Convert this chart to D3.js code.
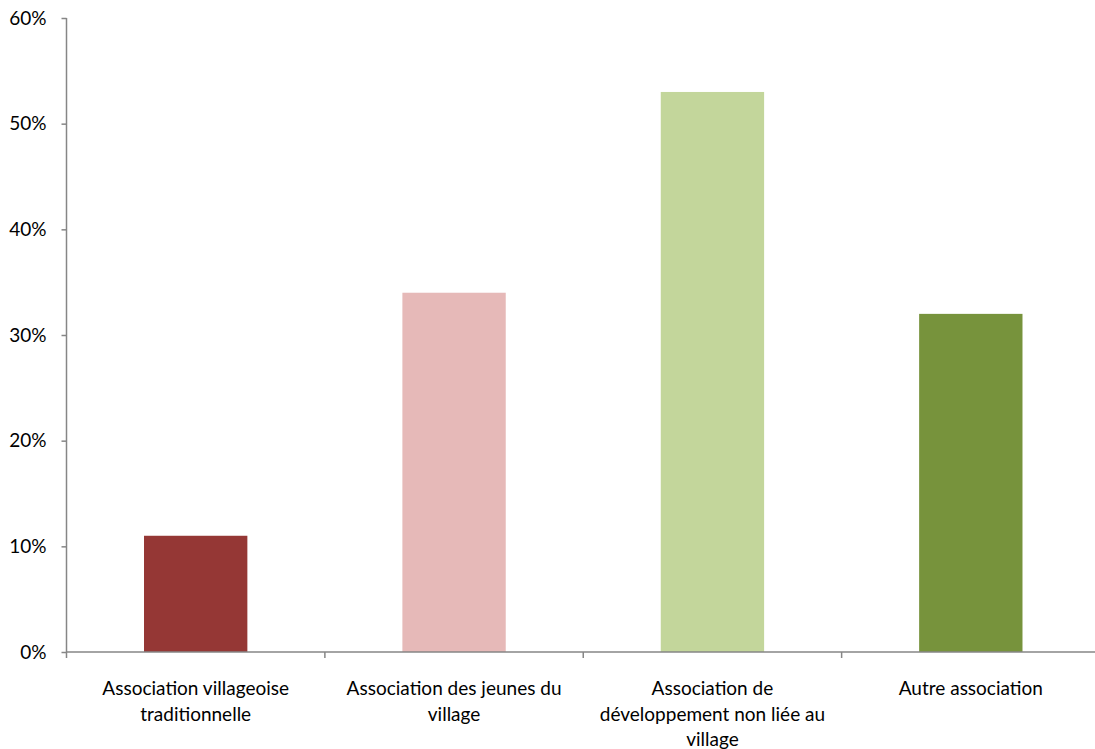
<!DOCTYPE html>
<html><head><meta charset="utf-8">
<script src="https://cdn.jsdelivr.net/npm/d3@7"></script>
<style>body{margin:0;background:#fff}svg{display:block}text{font-family:Lato,"Open Sans",sans-serif;font-size:19px;fill:#000}</style>
</head><body><svg id="c" width="1095" height="749"></svg>
<script>
const categories = [
  ["Association villageoise", "traditionnelle"],
  ["Association des jeunes du", "village"],
  ["Association de", "développement non liée au", "village"],
  ["Autre association"]
];
const values = [0.11, 0.34, 0.53, 0.32];
const colors = ["#953735", "#E6B9B8", "#C3D69B", "#77933C"];
const yTicks = [0, 0.1, 0.2, 0.3, 0.4, 0.5, 0.6];

const svg = d3.select("#c");
const mLeft = 66.5, mRight = 1100, mTop = 18, mBottom = 652;
const ids = categories.map((d, i) => i);
const x = d3.scaleBand().domain(ids).range([mLeft, mRight]).paddingInner(0.6).paddingOuter(0.3);
const y = d3.scaleLinear().domain([0, 0.6]).range([mBottom, mTop]);
const axisColor = "#868686";

svg.selectAll("rect.bar").data(values).join("rect")
  .attr("class", "bar")
  .attr("x", (d, i) => x(i)).attr("width", x.bandwidth())
  .attr("y", d => y(d)).attr("height", d => y(0) - y(d))
  .attr("fill", (d, i) => colors[i]);

const yAxis = svg.append("g").attr("transform", `translate(${mLeft},0)`)
  .call(d3.axisLeft(y).tickValues(yTicks).tickFormat(d3.format(".0%")).tickSize(5).tickPadding(15));
yAxis.select(".domain").attr("stroke", axisColor).attr("stroke-width", 1.5).attr("d", `M0,${mTop}V${mBottom}`);
yAxis.selectAll(".tick line").attr("stroke", axisColor).attr("stroke-width", 1.5);
yAxis.selectAll("text").style("font-size", "19px").style("font-family", "Lato,'Open Sans',sans-serif").attr("fill", "#000");

const g = svg.append("g");
g.append("line").attr("x1", mLeft).attr("x2", mRight).attr("y1", mBottom).attr("y2", mBottom)
  .attr("stroke", axisColor).attr("stroke-width", 1.5);
const bounds = d3.range(categories.length + 1).map(i => mLeft + i * (mRight - mLeft) / categories.length);
g.selectAll("line.tk").data(bounds).join("line").attr("class", "tk")
  .attr("x1", d => d).attr("x2", d => d).attr("y1", mBottom).attr("y2", mBottom + 6)
  .attr("stroke", axisColor).attr("stroke-width", 1.5);

const lbl = svg.append("g").selectAll("text").data(categories).join("text")
  .attr("text-anchor", "middle")
  .attr("x", (d, i) => x(i) + x.bandwidth() / 2)
  .attr("y", 695);
lbl.selectAll("tspan").data(d => d).join("tspan")
  .attr("x", function() { return this.parentNode.getAttribute("x"); })
  .attr("dy", (d, j) => j === 0 ? 0 : 25.5)
  .text(d => d);
</script></body></html>
